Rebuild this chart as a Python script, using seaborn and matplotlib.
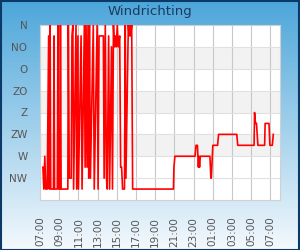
import numpy as np
import pandas as pd
import matplotlib
matplotlib.use("Agg")
import matplotlib.pyplot as plt
from matplotlib.patches import Rectangle
import seaborn as sns

# ---- data ----
title = "Windrichting"
dir_labels = ["N", "NO", "O", "ZO", "Z", "ZW", "W", "NW"]
dir_degrees = [0, 45, 90, 135, 180, 225, 270, 315]
time_labels = ["07:00", "09:00", "11:00", "13:00", "15:00", "17:00", "19:00",
               "21:00", "23:00", "01:00", "03:00", "05:00", "07:00"]
tick_hours = [0, 2, 4, 6, 8, 10, 12, 14, 16, 18, 20, 22, 24]

# hours since 07:00
hours = [0.30, 0.35, 0.40, 0.50, 0.60, 0.75, 0.90, 0.97, 1.05, 1.12,
         1.40, 1.46, 1.52, 1.80, 1.87, 1.95, 2.08, 2.13, 2.20, 2.90,
         2.95, 3.05, 3.25, 3.33, 3.42, 3.50, 3.75, 3.82, 3.95, 4.00,
         4.28, 4.38, 4.62, 4.70, 4.80, 4.90, 5.00, 5.08, 5.15, 5.25,
         5.55, 5.65, 5.95, 6.05, 6.15, 6.60, 6.68, 6.80, 6.92, 7.00,
         7.15, 7.25, 7.45, 7.55, 7.65, 7.75, 7.85, 7.95, 8.05, 8.15,
         8.30, 8.40, 8.50, 8.60, 8.80, 8.88, 8.95, 9.20, 9.28, 9.35,
         9.45, 9.55, 9.65, 13.90, 13.95, 14.05, 16.15, 16.25, 16.40, 16.50,
         16.55, 16.62, 16.70, 17.70, 17.80, 17.85, 18.00, 18.50, 18.60, 20.50,
         20.60, 22.30, 22.35, 22.45, 22.55, 22.70, 23.40, 23.45, 23.85, 23.95,
         24.20, 24.30]
degrees = [292.5, 315, 337.5, 270, 337.5, 337.5, 22.5, 337.5, 0, 337.5,
           337.5, 22.5, 337.5, 337.5, 0, 337.5, 337.5, 0, 337.5, 337.5,
           0, 315, 315, 22.5, 0, 337.5, 0, 337.5, 22.5, 337.5,
           22.5, 337.5, 0, 292.5, 0, 292.5, 0, 315, 0, 315,
           0, 337.5, 0, 337.5, 22.5, 22.5, 315, 0, 315, 337.5,
           22.5, 337.5, 45, 337.5, 0, 45, 22.5, 45, 0, 45,
           22.5, 292.5, 292.5, 337.5, 337.5, 0, 315, 0, 22.5, 0,
           22.5, 0, 337.5, 337.5, 292.5, 270, 270, 247.5, 247.5, 292.5,
           270, 292.5, 270, 270, 315, 315, 247.5, 247.5, 225, 225,
           247.5, 247.5, 180, 202.5, 202.5, 247.5, 247.5, 202.5, 202.5, 247.5,
           247.5, 225]

df = pd.DataFrame({"hours": hours, "degrees": degrees})

# ---- figure ----
fig = plt.figure(figsize=(3.0, 2.5), dpi=100)

# background gradient
bg = fig.add_axes([0, 0, 1, 1], zorder=-2)
top = np.array([0x4c, 0xa6, 0xda]) / 255.0
bot = np.array([0xf4, 0xf9, 0xfd]) / 255.0
t = np.linspace(0, 1, 256)[:, None]
grad = top[None, :] * (1 - t) + bot[None, :] * t
bg.imshow(grad[:, None, :].repeat(2, axis=1), aspect="auto", extent=[0, 1, 0, 1])
bg.set_axis_off()

fig.patches.append(Rectangle((0.002, 0.002), 0.996, 0.996, transform=fig.transFigure,
                             fill=False, edgecolor="#0c3a68", linewidth=1.5, zorder=10))

fig.text(0.5, 1 - 12 / 250, title, ha="center", va="center", fontsize=9.5,
         color="#1b3b5e")

ax = fig.add_axes([40 / 300, 50 / 250, 240 / 300, 175 / 250])
ax.set_facecolor("white")

# alternate bands
for lo in [45, 135, 225]:
    ax.axhspan(lo, lo + 45, color="#f2f2f2", zorder=0, lw=0)

sns.lineplot(data=df, x="hours", y="degrees", ax=ax, color="#ff0000",
             linewidth=1.2, sort=False, estimator=None, zorder=3)

ax.set_xlim(0, 25)
ax.set_ylim(360, 0)
ax.set_yticks(dir_degrees)
ax.set_yticklabels(dir_labels)
ax.set_xticks(tick_hours)
ax.set_xticklabels(time_labels, rotation=90)
ax.tick_params(axis="both", length=0, labelsize=7.5, colors="#555555")
ax.tick_params(axis="y", pad=9)
ax.tick_params(axis="x", pad=12)
ax.set_xlabel("")
ax.set_ylabel("")

ax.grid(True, axis="y", color="#e0e0e0", linewidth=0.8, zorder=1)
ax.grid(True, axis="x", color="#c8c8c8", linewidth=0.8, zorder=1)
ax.set_axisbelow(True)
for s in ax.spines.values():
    s.set_color("#d0d0d0")
    s.set_linewidth(0.8)

fig.savefig("out.png", dpi=100)
